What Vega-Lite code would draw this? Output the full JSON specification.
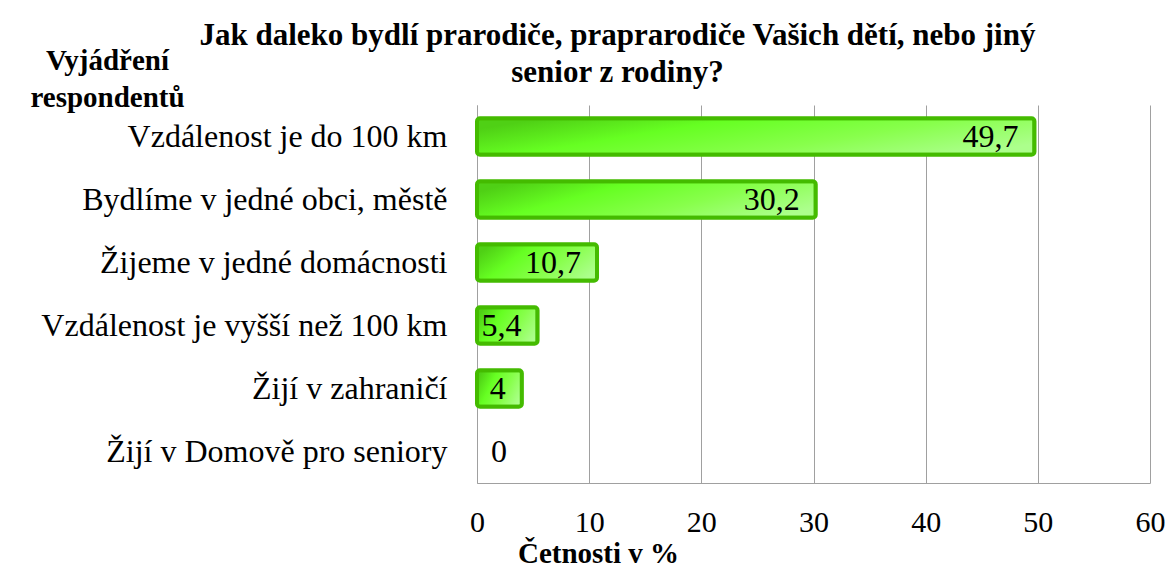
{
  "$schema": "https://vega.github.io/schema/vega-lite/v6.json",
  "width": 673,
  "height": 378,
  "autosize": {"type": "none"},
  "padding": {"left": 477, "top": 105, "right": 18, "bottom": 88},
  "background": "white",
  "config": {"view": {"stroke": null}},
  "title": {
    "text": ["Jak daleko bydlí prarodiče, praprarodiče Vašich dětí, nebo jiný", "senior z rodiny?"],
    "font": "Liberation Serif",
    "fontSize": 31,
    "fontWeight": "bold",
    "color": "black",
    "anchor": "middle",
    "frame": "group",
    "dx": -196,
    "offset": -43,
    "lineHeight": 37,
    "limit": 1000
  },
  "data": {
    "values": [
      {"kategorie": "Vzdálenost je do 100 km", "hodnota": 49.7, "popisek": "49,7"},
      {"kategorie": "Bydlíme v jedné obci, městě", "hodnota": 30.2, "popisek": "30,2"},
      {"kategorie": "Žijeme v jedné domácnosti", "hodnota": 10.7, "popisek": "10,7"},
      {"kategorie": "Vzdálenost je vyšší než 100 km", "hodnota": 5.4, "popisek": "5,4"},
      {"kategorie": "Žijí v zahraničí", "hodnota": 4, "popisek": "4"},
      {"kategorie": "Žijí v Domově pro seniory", "hodnota": 0, "popisek": "0"}
    ]
  },
  "encoding": {
    "y": {
      "field": "kategorie",
      "type": "nominal",
      "sort": null,
      "scale": {"paddingInner": 0.42, "paddingOuter": 0.21},
      "axis": {
        "title": ["Vyjádření", "respondentů"],
        "titleFont": "Liberation Serif",
        "titleFontSize": 29,
        "titleFontWeight": "bold",
        "titleColor": "black",
        "titleAngle": 0,
        "titleAlign": "center",
        "titleBaseline": "top",
        "titleX": -370,
        "titleY": -59,
        "titleLineHeight": 37,
        "titleLimit": 600,
        "labelFont": "Liberation Serif",
        "labelFontSize": 32,
        "labelColor": "black",
        "labelPadding": 30,
        "labelLimit": 600,
        "ticks": false,
        "domain": true,
        "domainColor": "#a0a0a0",
        "domainWidth": 1,
        "grid": false
      }
    }
  },
  "layer": [
    {
      "transform": [{"filter": "datum.hodnota > 0"}],
      "mark": {
        "type": "bar",
        "stroke": "#44bb00",
        "strokeWidth": 4,
        "cornerRadius": 3,
        "fill": {
          "gradient": "linear",
          "x1": 0, "y1": 0.3, "x2": 1, "y2": 0.7,
          "stops": [
            {"offset": 0, "color": "#4fd015"},
            {"offset": 0.3, "color": "#66ff22"},
            {"offset": 0.65, "color": "#88ff4c"},
            {"offset": 1, "color": "#acff8c"}
          ]
        }
      },
      "encoding": {
        "x": {
          "field": "hodnota",
          "type": "quantitative",
          "scale": {"domain": [0, 60], "nice": false},
          "axis": {
            "values": [0, 10, 20, 30, 40, 50, 60],
            "title": "Četnosti v %",
            "titleFont": "Liberation Serif",
            "titleFontSize": 29,
            "titleFontWeight": "bold",
            "titleColor": "black",
            "titleAlign": "center",
            "titleBaseline": "alphabetic",
            "titleX": 121,
            "titleY": 79,
            "labelFont": "Liberation Serif",
            "labelFontSize": 30,
            "labelColor": "black",
            "labelPadding": 24,
            "labelFlush": false,
            "ticks": false,
            "grid": true,
            "gridColor": "#a0a0a0",
            "gridWidth": 1,
            "domainColor": "#a0a0a0",
            "domainWidth": 1
          }
        }
      }
    },
    {
      "transform": [{"filter": "datum.hodnota > 0"}],
      "mark": {
        "type": "text",
        "align": "right",
        "baseline": "middle",
        "dx": -16,
        "font": "Liberation Serif",
        "fontSize": 32,
        "color": "black"
      },
      "encoding": {
        "x": {"field": "hodnota", "type": "quantitative"},
        "text": {"field": "popisek"}
      }
    },
    {
      "transform": [{"filter": "datum.hodnota == 0"}],
      "mark": {
        "type": "text",
        "align": "left",
        "baseline": "middle",
        "dx": 14,
        "font": "Liberation Serif",
        "fontSize": 32,
        "color": "black"
      },
      "encoding": {
        "x": {"field": "hodnota", "type": "quantitative"},
        "text": {"field": "popisek"}
      }
    }
  ]
}
